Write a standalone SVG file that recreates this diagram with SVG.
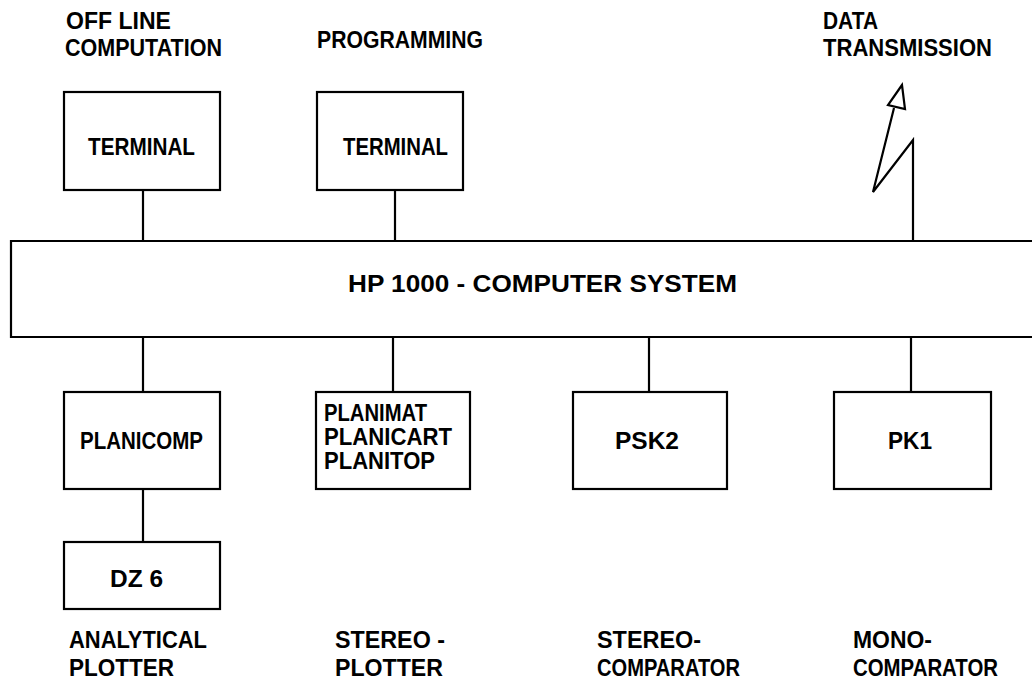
<svg xmlns="http://www.w3.org/2000/svg" width="1032" height="687" viewBox="0 0 1032 687">
<style>
.box{fill:none;stroke:#000;stroke-width:2.2}
.ln{fill:none;stroke:#000;stroke-width:2.2;stroke-linejoin:miter}
text{font-family:"Liberation Sans",Arial,sans-serif;font-weight:bold;font-size:23px;fill:#000}
</style>
<rect width="1032" height="687" fill="#fff"/>
<g id="lbl-offline"><text x="66" y="29" textLength="105" lengthAdjust="spacingAndGlyphs">OFF LINE</text><text x="65" y="56" textLength="157" lengthAdjust="spacingAndGlyphs">COMPUTATION</text></g>
<g id="lbl-programming"><text x="317" y="48" textLength="166" lengthAdjust="spacingAndGlyphs">PROGRAMMING</text></g>
<g id="lbl-data"><text x="823" y="29" textLength="55" lengthAdjust="spacingAndGlyphs">DATA</text><text x="823" y="56" textLength="169" lengthAdjust="spacingAndGlyphs">TRANSMISSION</text></g>
<g id="terminal1"><rect class="box" x="64" y="92" width="156" height="98"/><text x="88" y="155" textLength="107" lengthAdjust="spacingAndGlyphs">TERMINAL</text></g>
<g id="terminal2"><rect class="box" x="317" y="92" width="146" height="98"/><text x="343" y="155" textLength="105" lengthAdjust="spacingAndGlyphs">TERMINAL</text></g>
<g id="hp1000"><path class="ln" d="M1040,241 H11 V337 H1040"/><text x="348" y="292" textLength="389" lengthAdjust="spacingAndGlyphs">HP 1000 - COMPUTER  SYSTEM</text></g>
<g id="planicomp"><rect class="box" x="64" y="392" width="156" height="97"/><text x="80" y="449" textLength="123" lengthAdjust="spacingAndGlyphs">PLANICOMP</text></g>
<g id="planimat"><rect class="box" x="316" y="392" width="154" height="97"/><text x="324" y="421" textLength="103" lengthAdjust="spacingAndGlyphs">PLANIMAT</text><text x="324" y="445" textLength="128" lengthAdjust="spacingAndGlyphs">PLANICART</text><text x="324" y="469" textLength="111" lengthAdjust="spacingAndGlyphs">PLANITOP</text></g>
<g id="psk2"><rect class="box" x="573" y="392" width="154" height="97"/><text x="615" y="449" textLength="64" lengthAdjust="spacingAndGlyphs">PSK2</text></g>
<g id="pk1"><rect class="box" x="834" y="392" width="157" height="97"/><text x="888" y="449" textLength="44" lengthAdjust="spacingAndGlyphs">PK1</text></g>
<g id="dz6"><rect class="box" x="64" y="542" width="156" height="67"/><text x="110" y="587" textLength="53" lengthAdjust="spacingAndGlyphs">DZ 6</text></g>
<g id="lbl-analytical"><text x="69" y="648" textLength="138" lengthAdjust="spacingAndGlyphs">ANALYTICAL</text><text x="69" y="676" textLength="105" lengthAdjust="spacingAndGlyphs">PLOTTER</text></g>
<g id="lbl-stereoplotter"><text x="335" y="648" textLength="110" lengthAdjust="spacingAndGlyphs">STEREO -</text><text x="335" y="676" textLength="108" lengthAdjust="spacingAndGlyphs">PLOTTER</text></g>
<g id="lbl-stereocomp"><text x="597" y="648" textLength="104" lengthAdjust="spacingAndGlyphs">STEREO-</text><text x="597" y="676" textLength="143" lengthAdjust="spacingAndGlyphs">COMPARATOR</text></g>
<g id="lbl-monocomp"><text x="853" y="648" textLength="79" lengthAdjust="spacingAndGlyphs">MONO-</text><text x="853" y="676" textLength="145" lengthAdjust="spacingAndGlyphs">COMPARATOR</text></g>
<g id="connectors">
<path class="ln" d="M143,190 V241"/>
<path class="ln" d="M395,190 V241"/>
<path class="ln" d="M143,337 V392"/>
<path class="ln" d="M393,337 V392"/>
<path class="ln" d="M649,337 V392"/>
<path class="ln" d="M911,337 V392"/>
<path class="ln" d="M143,489 V542"/>
<path class="ln" d="M913,241 V140 L873,192 L894,108"/>
<path class="ln" d="M902,85 L888,105 L905,109 Z"/>
</g>
</svg>
